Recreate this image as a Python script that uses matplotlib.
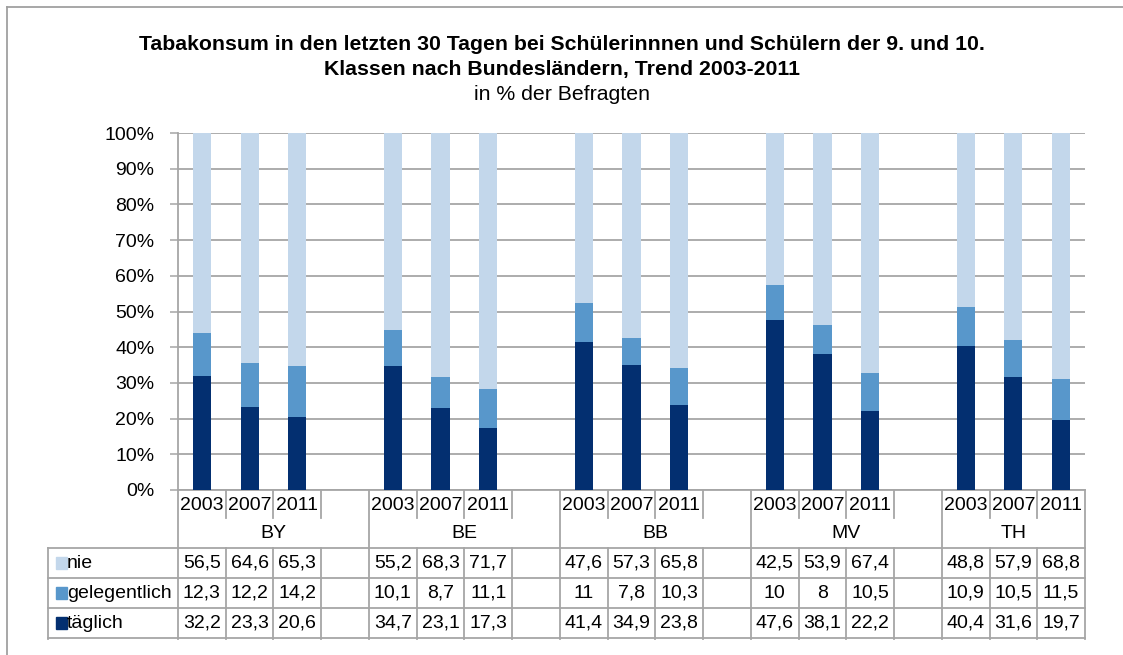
import numpy as np
import matplotlib.pyplot as plt
from matplotlib.patches import Rectangle
from matplotlib.lines import Line2D

plt.rcParams['font.family'] = ['Liberation Sans', 'DejaVu Sans']

W, H = 1123, 655

states = ['BY', 'BE', 'BB', 'MV', 'TH']
years = ['2003', '2007', '2011']
series = ['nie', 'gelegentlich', 'täglich']
colors = ['#C3D7EB', '#5897CB', '#032F70']

nie = [56.5, 64.6, 65.3, 55.2, 68.3, 71.7, 47.6, 57.3, 65.8, 42.5, 53.9, 67.4, 48.8, 57.9, 68.8]
gelegentlich = [12.3, 12.2, 14.2, 10.1, 8.7, 11.1, 11, 7.8, 10.3, 10, 8, 10.5, 10.9, 10.5, 11.5]
taeglich = [32.2, 23.3, 20.6, 34.7, 23.1, 17.3, 41.4, 34.9, 23.8, 47.6, 38.1, 22.2, 40.4, 31.6, 19.7]

values = [np.array(nie), np.array(gelegentlich), np.array(taeglich)]
total = values[0] + values[1] + values[2]

# each state gets 4 slots (3 years + empty one), last state has no empty slot
xpos = np.array([4 * g + i for g in range(len(states)) for i in range(len(years))])
ncols = 4 * (len(states) - 1) + len(years)

gridc = '#A6A6A6'
fs = 14

fig = plt.figure(figsize=(W / 100, H / 100), dpi=100)

def px(x0, y0, x1, y1):
    return [x0 / W, 1 - y1 / H, (x1 - x0) / W, (y1 - y0) / H]

ax = fig.add_axes(px(178, 133, 1085, 490))
bottom = np.zeros(len(xpos))
for k in [2, 1, 0]:
    pct = values[k] / total * 100
    ax.bar(xpos, pct, width=0.38, bottom=bottom, color=colors[k], zorder=3)
    bottom += pct

ax.set_xlim(-0.5, ncols - 0.5)
ax.set_ylim(0, 100)
ax.set_yticks(np.arange(0, 101, 10))
ax.set_yticklabels(['%d%%' % v for v in range(0, 101, 10)], fontsize=fs)
ax.set_xticks([])
ax.yaxis.grid(True, color=gridc, linewidth=1.3, zorder=0)
ax.tick_params(axis='y', length=6, color=gridc, width=1.1, pad=11)
for s in ['top', 'right']:
    ax.spines[s].set_visible(False)
for s in ['left', 'bottom']:
    ax.spines[s].set_color(gridc)
    ax.spines[s].set_linewidth(1.3)

# data table below the chart
slot = (1085 - 178) / ncols
xl = -0.5 - (178 - 48) / slot
tab = fig.add_axes(px(48, 490, 1085, 641))
tab.set_xlim(xl, ncols - 0.5)
tab.set_ylim(641, 490)
tab.axis('off')

lw = 1.3
for c in range(ncols + 1):
    b = c - 0.5
    if c % 4 == 0 or c == ncols:
        tab.plot([b, b], [490, 639], color=gridc, lw=lw, clip_on=False)
    else:
        tab.plot([b, b], [490, 518], color=gridc, lw=lw, clip_on=False)
        tab.plot([b, b], [548, 639], color=gridc, lw=lw, clip_on=False)
tab.plot([xl, xl], [548, 639], color=gridc, lw=lw, clip_on=False)
for yy in [548, 578, 608, 638]:
    tab.plot([xl, ncols - 0.5], [yy, yy], color=gridc, lw=lw, clip_on=False)

for x in xpos:
    tab.text(x, 505, years[x % 4], ha='center', va='center', fontsize=fs)
for g, st in enumerate(states):
    cx = 4 * g + 1.5 if g < len(states) - 1 else 4 * g + 1
    tab.text(cx, 533, st, ha='center', va='center', fontsize=fs)

rows_y = [563, 593, 623]
for k, name in enumerate(series):
    yy = rows_y[k]
    tab.add_patch(Rectangle((xl + 8 / slot, yy - 6), 11 / slot, 12,
                            color=colors[k], clip_on=False))
    tab.text(xl + 19 / slot, yy, name, ha='left', va='center', fontsize=fs)
    for x, v in zip(xpos, values[k]):
        tab.text(x, yy, ('%g' % v).replace('.', ','), ha='center',
                 va='center', fontsize=fs)

# titles
title_font = ['Liberation Sans', 'DejaVu Sans']
fig.text(0.5, 1 - 45 / H, 'Tabakonsum in den letzten 30 Tagen bei Schülerinnnen und Schülern der 9. und 10.',
         ha='center', va='center', fontsize=15.3, fontweight='bold', family=title_font)
fig.text(0.5, 1 - 70 / H, 'Klassen nach Bundesländern, Trend 2003-2011',
         ha='center', va='center', fontsize=15.3, fontweight='bold', family=title_font)
fig.text(0.5, 1 - 95 / H, 'in % der Befragten',
         ha='center', va='center', fontsize=15.3, family=title_font)

# outer frame (left and top visible)
fig.add_artist(Line2D([7 / W, 7 / W], [0, 1 - 7 / H], color='#A0A0A0', lw=1.3))
fig.add_artist(Line2D([7 / W, 1], [1 - 7 / H, 1 - 7 / H], color='#A0A0A0', lw=1.3))

fig.savefig('out.png', dpi=100)
